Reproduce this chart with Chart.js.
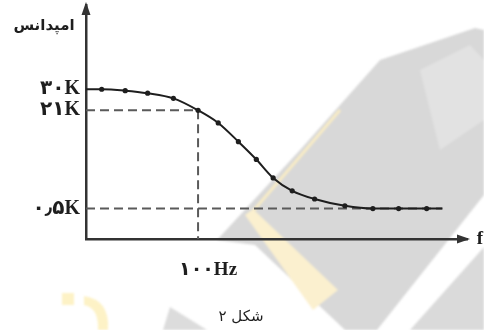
<!DOCTYPE html>
<html lang="fa">
<head>
<meta charset="utf-8">
<script src="https://cdn.jsdelivr.net/npm/chart.js@4.4.1/dist/chart.umd.min.js"></script>
<style>
  html, body { margin: 0; padding: 0; background: #fff; }
  #wrap { position: relative; width: 484px; height: 330px; overflow: hidden; }
  #wrap svg, #wrap canvas { position: absolute; left: 0; top: 0; }
  #wrap svg { filter: blur(1.2px); }
</style>
</head>
<body>
<div id="wrap">
  <!-- faint watermark behind the figure -->
  <svg width="484" height="330" viewBox="0 0 484 330">
    <polygon points="380,60 475,28 484,30 484,195 377,330 345,330 255,245 217,240 300,150" fill="#d8d8d8"/>
    <polygon points="420,70 470,45 484,60 484,120 440,150" fill="#e2e2e2"/>
    <polygon points="484,247 484,330 410,330" fill="#dadada"/>
    <polygon points="170,307 207,330 163,330" fill="#dcdcdc"/>
    <line x1="340" y1="110" x2="248" y2="217" stroke="#f8ecc6" stroke-width="3"/>
    <polygon points="245,215 253,209 338,290 313,310" fill="#fbf0cf"/>
    <rect x="62" y="293" width="12" height="12" fill="#fdf2c6"/>
    <path d="M84 296 Q110 300 108 330 L98 330 Q99 308 84 305 Z" fill="#fdf2c6"/>
  </svg>
  <canvas id="chart" width="484" height="330"></canvas>
</div>
<script>
// Schematic figure: x in frequency units (100 = 100 Hz), y in drawing height units.
const frequency = [0, 14, 35, 55, 78, 100, 118, 136, 152, 167, 184, 204, 231, 256, 279, 304, 318];
const impedance = [64, 64, 63.4, 62.3, 60.1, 55, 49.6, 41.6, 34, 26.1, 20.6, 17.1, 14.2, 13, 13, 13, 13];

const levelValues = [13, 55, 64];
const levelLabels = ['۰٫۵K', '۲۱K', '۳۰K'];
const cutoffValues = [100];
const cutoffLabels = ['۱۰۰Hz'];

const yAxisName = 'امپدانس';
const xAxisName = 'f';
const caption = 'شکل ۲';

const ink = '#1e1e1e';
const axisInk = '#333';
const dashInk = '#5a5a5a';
const serifFont = "'Liberation Serif', 'DejaVu Sans', serif";
const persianFont = "'DejaVu Sans', sans-serif";

function toPoints(xs, ys) {
  return xs.map((x, i) => ({ x, y: ys[i] }));
}

function dropPadding(scale) {
  scale.paddingTop = 0;
  scale.paddingBottom = 0;
  scale.paddingLeft = 0;
  scale.paddingRight = 0;
}

// arrow heads, axis names and caption
const axisDecor = {
  id: 'axisDecor',
  afterDraw(chart) {
    const { ctx, chartArea } = chart;
    const { left, right, top, bottom } = chartArea;
    ctx.save();
    ctx.fillStyle = axisInk;
    ctx.beginPath();
    ctx.moveTo(left, top - 3);
    ctx.lineTo(left - 4.5, top + 10);
    ctx.lineTo(left + 4.5, top + 10);
    ctx.closePath();
    ctx.fill();
    ctx.beginPath();
    ctx.moveTo(right + 3, bottom);
    ctx.lineTo(right - 10, bottom - 4.5);
    ctx.lineTo(right - 10, bottom + 4.5);
    ctx.closePath();
    ctx.fill();

    ctx.fillStyle = ink;
    ctx.textBaseline = 'middle';
    ctx.textAlign = 'center';
    ctx.font = 'bold 15px ' + persianFont;
    ctx.fillText(yAxisName, 44, 26);
    ctx.font = 'bold 19px ' + serifFont;
    ctx.fillText(xAxisName, right + 13, bottom);
    ctx.font = '15px ' + persianFont;
    ctx.fillText(caption, 241, 317);
    ctx.restore();
  }
};

new Chart(document.getElementById('chart'), {
  type: 'line',
  data: {
    datasets: [
      {
        data: toPoints(frequency, impedance),
        borderColor: ink,
        borderWidth: 2,
        backgroundColor: ink,
        pointBackgroundColor: ink,
        pointBorderWidth: 0,
        pointRadius: ctx => (ctx.dataIndex === 0 || ctx.dataIndex === frequency.length - 1) ? 0 : 2.6,
        cubicInterpolationMode: 'monotone',
        order: 0
      },
      {
        data: [{ x: 0, y: levelValues[1] }, { x: cutoffValues[0], y: levelValues[1] }, { x: cutoffValues[0], y: 0 }],
        borderColor: dashInk,
        borderWidth: 2,
        borderDash: [9, 5],
        pointRadius: 0,
        tension: 0,
        order: 1
      },
      {
        data: [{ x: 0, y: levelValues[0] }, { x: frequency[frequency.length - 1], y: levelValues[0] }],
        borderColor: dashInk,
        borderWidth: 2,
        borderDash: [9, 5],
        pointRadius: 0,
        tension: 0,
        order: 1
      }
    ]
  },
  options: {
    responsive: false,
    animation: false,
    layout: { padding: { top: 5, right: 17, left: 0, bottom: 0 } },
    plugins: {
      legend: { display: false },
      tooltip: { enabled: false }
    },
    scales: {
      x: {
        type: 'linear',
        min: 0,
        max: 340,
        grid: { display: false, drawTicks: false },
        border: { display: true, color: axisInk, width: 2.5 },
        afterBuildTicks: scale => { scale.ticks = cutoffValues.map(value => ({ value })); },
        afterFit: scale => { scale.height = 91; dropPadding(scale); },
        ticks: {
          autoSkip: false,
          maxRotation: 0,
          padding: 20,
          labelOffset: 10,
          color: ink,
          font: { family: serifFont, size: 19, weight: 'bold' },
          callback: value => cutoffLabels[cutoffValues.indexOf(value)]
        }
      },
      y: {
        type: 'linear',
        min: 0,
        max: 100,
        grid: { display: false, drawTicks: false },
        border: { display: true, color: axisInk, width: 2.5 },
        afterBuildTicks: scale => { scale.ticks = levelValues.map(value => ({ value })); },
        afterFit: scale => { scale.width = 86; dropPadding(scale); },
        ticks: {
          autoSkip: false,
          padding: 6,
          color: ink,
          font: { family: serifFont, size: 20, weight: 'bold' },
          callback: value => levelLabels[levelValues.indexOf(value)]
        }
      }
    }
  },
  plugins: [axisDecor]
});
</script>
</body>
</html>
